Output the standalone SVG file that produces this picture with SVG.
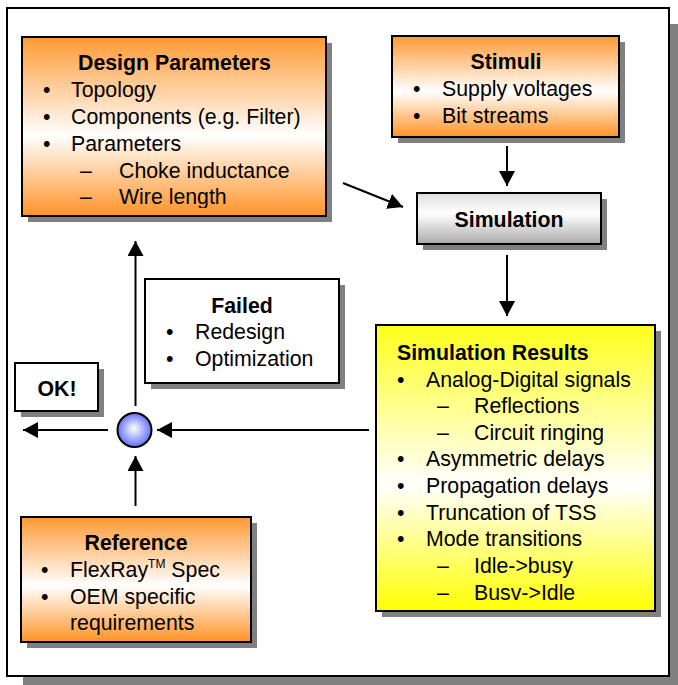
<svg xmlns="http://www.w3.org/2000/svg" width="678" height="685" viewBox="0 0 678 685">
  <defs>
    <linearGradient id="orangeFill" x1="0" y1="0" x2="0" y2="1">
      <stop offset="0" stop-color="#FF9933"/>
      <stop offset="0.55" stop-color="#FFFFFF"/>
      <stop offset="1" stop-color="#FF9326"/>
    </linearGradient>
    <linearGradient id="yellowFill" x1="0" y1="0" x2="0" y2="1">
      <stop offset="0" stop-color="#FFFF1A"/>
      <stop offset="0.56" stop-color="#FFFFFF"/>
      <stop offset="1" stop-color="#FFFF00"/>
    </linearGradient>
    <linearGradient id="grayFill" x1="0" y1="0" x2="0" y2="1">
      <stop offset="0" stop-color="#DDDDDD"/>
      <stop offset="0.4" stop-color="#FFFFFF"/>
      <stop offset="1" stop-color="#AAAAAA"/>
    </linearGradient>
    <radialGradient id="blueFill" cx="0.5" cy="0.5" r="0.5" fx="0.48" fy="0.45">
      <stop offset="0" stop-color="#FFFFFF"/>
      <stop offset="1" stop-color="#6272F5"/>
    </radialGradient>
    <marker id="arrow" markerUnits="userSpaceOnUse" markerWidth="16" markerHeight="17" refX="15" refY="8" orient="auto">
      <path d="M0,0 L15,8 L0,16 Z" fill="#000"/>
    </marker>
    <clipPath id="designClip">
      <rect x="22" y="37" width="304" height="171"/>
    </clipPath>
  </defs>
  <style>
    .shadow { fill: #808080; }
    .box { stroke: #000; stroke-width: 2; }
    .t { font-family: "Liberation Sans", Arial, Helvetica, sans-serif; font-size: 21.3px; fill: #000; }
    .b { font-weight: bold; }
    .c { text-anchor: middle; }
    .edge { stroke: #000; stroke-width: 2; fill: none; marker-end: url(#arrow); }
  </style>

  <rect width="678" height="685" fill="#FFFFFF"/>

  <!-- outer frame -->
  <g id="frame">
    <rect class="shadow" x="23" y="24" width="662" height="668"/>
    <rect x="7" y="8" width="662" height="668" fill="#FFFFFF" stroke="#000" stroke-width="2"/>
  </g>

  <g id="design-parameters">
    <rect class="shadow" x="28" y="43" width="304" height="179"/>
    <rect class="box" x="22" y="37" width="304" height="179" fill="url(#orangeFill)"/>
    <text class="t b c" x="174.5" y="70">Design Parameters</text>
    <g clip-path="url(#designClip)">
      <text class="t" x="43" y="97">•</text>
      <text class="t" x="71" y="97">Topology</text>
      <text class="t" x="43" y="124">•</text>
      <text class="t" x="71" y="124">Components (e.g. Filter)</text>
      <text class="t" x="43" y="150.5">•</text>
      <text class="t" x="71" y="150.5">Parameters</text>
      <text class="t" x="80" y="177.5">–</text>
      <text class="t" x="119" y="177.5">Choke inductance</text>
      <text class="t" x="80" y="204">–</text>
      <text class="t" x="119" y="204">Wire length</text>
    </g>
  </g>

  <g id="stimuli">
    <rect class="shadow" x="398" y="42" width="227" height="101"/>
    <rect class="box" x="392" y="36" width="227" height="101" fill="url(#orangeFill)"/>
    <text class="t b c" x="506" y="69">Stimuli</text>
    <text class="t" x="413" y="96">•</text>
    <text class="t" x="442" y="96">Supply voltages</text>
    <text class="t" x="413" y="122.5">•</text>
    <text class="t" x="442" y="122.5">Bit streams</text>
  </g>

  <g id="simulation">
    <rect class="shadow" x="423" y="199" width="184" height="51"/>
    <rect class="box" x="417" y="193" width="184" height="51" fill="url(#grayFill)"/>
    <text class="t b c" x="509" y="227">Simulation</text>
  </g>

  <g id="simulation-results">
    <rect class="shadow" x="382" y="331" width="279" height="286"/>
    <rect class="box" x="376" y="325" width="279" height="286" fill="url(#yellowFill)"/>
    <text class="t b" x="397" y="360">Simulation Results</text>
    <text class="t" x="397" y="386.5">•</text>
    <text class="t" x="426" y="386.5">Analog-Digital signals</text>
    <text class="t" x="437" y="413">–</text>
    <text class="t" x="474" y="413">Reflections</text>
    <text class="t" x="437" y="439.5">–</text>
    <text class="t" x="474" y="439.5">Circuit ringing</text>
    <text class="t" x="397" y="466">•</text>
    <text class="t" x="426" y="466">Asymmetric delays</text>
    <text class="t" x="397" y="493">•</text>
    <text class="t" x="426" y="493">Propagation delays</text>
    <text class="t" x="397" y="519.5">•</text>
    <text class="t" x="426" y="519.5">Truncation of TSS</text>
    <text class="t" x="397" y="546">•</text>
    <text class="t" x="426" y="546">Mode transitions</text>
    <text class="t" x="437" y="573">–</text>
    <text class="t" x="474" y="573">Idle-&gt;busy</text>
    <text class="t" x="437" y="599.5">–</text>
    <text class="t" x="474" y="599.5">Busv-&gt;Idle</text>
  </g>

  <g id="failed">
    <rect class="shadow" x="151" y="285" width="194" height="104"/>
    <rect class="box" x="145" y="279" width="194" height="104" fill="#FFFFFF"/>
    <text class="t b c" x="242" y="313">Failed</text>
    <text class="t" x="166" y="339">•</text>
    <text class="t" x="195" y="339">Redesign</text>
    <text class="t" x="166" y="366">•</text>
    <text class="t" x="195" y="366">Optimization</text>
  </g>

  <g id="ok">
    <rect class="shadow" x="21" y="369" width="83" height="48"/>
    <rect class="box" x="15" y="363" width="83" height="48" fill="#FFFFFF"/>
    <text class="t b c" x="57" y="396">OK!</text>
  </g>

  <g id="reference">
    <rect class="shadow" x="27" y="523" width="230" height="125"/>
    <rect class="box" x="21" y="517" width="230" height="125" fill="url(#orangeFill)"/>
    <text class="t b c" x="136" y="549.5">Reference</text>
    <text class="t" x="41" y="577">•</text>
    <text class="t" x="70" y="577">FlexRay<tspan font-size="12" dy="-9">TM</tspan><tspan dy="9"> Spec</tspan></text>
    <text class="t" x="41" y="603.5">•</text>
    <text class="t" x="70" y="603.5">OEM specific</text>
    <text class="t" x="70" y="630">requirements</text>
  </g>

  <g id="decision">
    <circle cx="134.5" cy="430" r="17" fill="url(#blueFill)" stroke="#000" stroke-width="2"/>
  </g>

  <g id="connectors">
    <line class="edge" x1="343" y1="183" x2="403" y2="207"/>
    <line class="edge" x1="507" y1="146" x2="507" y2="186"/>
    <line class="edge" x1="507" y1="255" x2="507" y2="316"/>
    <line class="edge" x1="369" y1="430" x2="157" y2="430"/>
    <line class="edge" x1="108" y1="430" x2="23" y2="430"/>
    <line class="edge" x1="135.5" y1="406" x2="135.5" y2="241"/>
    <line class="edge" x1="135.5" y1="506" x2="135.5" y2="456"/>
  </g>
</svg>
